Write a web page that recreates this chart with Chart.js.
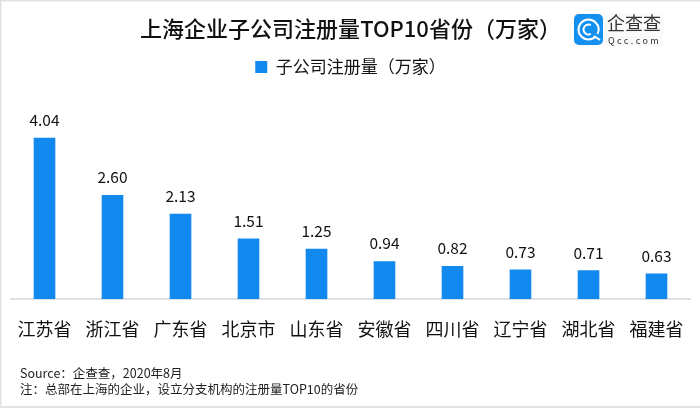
<!DOCTYPE html>
<html><head><meta charset="utf-8">
<style>html,body{margin:0;padding:0;background:#fff;overflow:hidden}
#w{position:relative;width:700px;height:408px}canvas{display:block}</style>
<script src="https://cdn.jsdelivr.net/npm/chart.js@4/dist/chart.umd.min.js"></script>
</head><body><div id="w"><canvas id="c" width="700" height="408"></canvas></div>
<script>
const categories=["江苏省","浙江省","广东省","北京市","山东省","安徽省","四川省","辽宁省","湖北省","福建省"];
const values=[4.04,2.60,2.13,1.51,1.25,0.94,0.82,0.73,0.71,0.63];
const seriesName="子公司注册量（万家）";
const titleText="上海企业子公司注册量TOP10省份（万家）";
const notes=["Source：企查查，2020年8月","注：总部在上海的企业，设立分支机构的注册量TOP10的省份"];
const FONT='"Noto Sans CJK SC","Noto Sans",sans-serif';
const extras={id:'extras',
 afterDatasetsDraw(ch){
  const x=ch.ctx;x.save();
  x.fillStyle='#111';x.font='15.5px '+FONT;x.textAlign='center';x.textBaseline='alphabetic';
  ch.getDatasetMeta(0).data.forEach((b,i)=>x.fillText(values[i].toFixed(2),b.x,b.y-12));
  x.restore();
 },
 afterDraw(ch){
  const x=ch.ctx;x.save();
  x.fillStyle='#e2e2e2';x.fillRect(0,0,700,1.5);x.fillRect(0,0,1.5,408);x.fillRect(0,406,700,2);
  x.fillStyle='#222';x.font='12.5px '+FONT;x.textAlign='left';x.textBaseline='alphabetic';
  x.fillText(notes[0],20,378);x.fillText(notes[1],20,394);
  x.fillStyle='#fafafa';x.fillRect(573,13,90,33);
  x.fillStyle='#1390f0';x.beginPath();x.roundRect(574,14,29,31,5);x.fill();
  x.strokeStyle='#fff';x.lineWidth=2;
  x.beginPath();x.arc(588.5,29.5,10,0.25*Math.PI,2.15*Math.PI);x.stroke();
  x.beginPath();x.arc(588.5,29.5,5,0.35*Math.PI,1.65*Math.PI);x.stroke();
  x.beginPath();x.moveTo(594,36);x.lineTo(600,40);x.stroke();
  x.fillStyle='#333';x.font='18px '+FONT;x.textAlign='left';x.fillText('企查查',607,30);
  x.font='9px '+FONT;x.letterSpacing='2.4px';x.fillText('Qcc.com',608,44);
  x.restore();
 }};
new Chart(document.getElementById('c'),{
 type:'bar',plugins:[extras],
 data:{labels:categories,datasets:[{label:seriesName,data:values,backgroundColor:'#1289ee',barThickness:21,borderWidth:0}]},
 options:{responsive:false,animation:false,devicePixelRatio:1,
  layout:{padding:{left:10.5,right:9.5,top:15,bottom:49.5}},
  plugins:{
   title:{display:true,text:titleText,color:'#111',font:{family:FONT,size:22,weight:'500'},padding:{top:0,bottom:7}},
   legend:{display:true,position:'top',labels:{color:'#111',font:{family:FONT,size:17},boxWidth:12,boxHeight:12,padding:10}},
   tooltip:{enabled:false}},
  scales:{
   x:{offset:true,grid:{display:false,drawTicks:false},border:{color:'#e0e0e0',width:2},
      afterFit(s){s.paddingLeft=0;s.paddingRight=0;},
      ticks:{color:'#111',font:{family:FONT,size:18},padding:19,maxRotation:0,autoSkip:false}},
   y:{display:false,min:0,max:5.36}}
 }});
</script></body></html>
